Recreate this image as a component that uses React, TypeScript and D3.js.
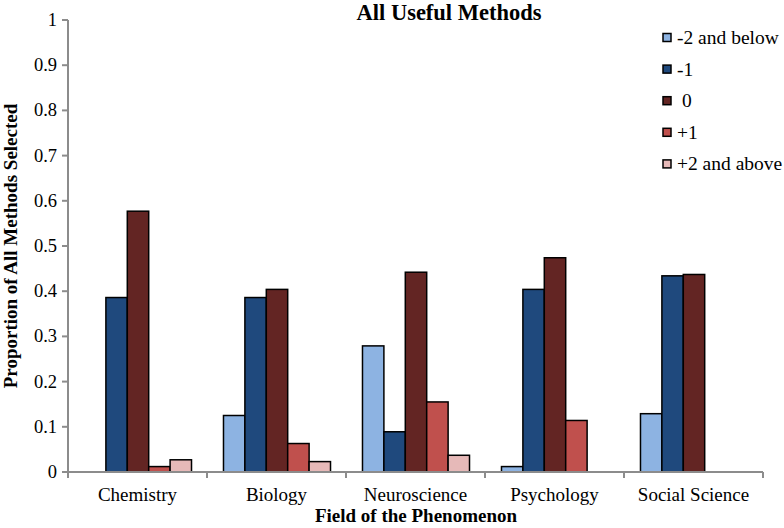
import React from "react";
import * as d3 from "d3";

const categories = ["Chemistry", "Biology", "Neuroscience", "Psychology", "Social Science"];
const seriesNames = ["-2 and below", "-1", " 0", "+1", "+2 and above"];
const seriesColors = ["#8DB3E2", "#1F497D", "#632523", "#C0504D", "#E6B9B8"];
const valsMinus2 = [0, 0.125, 0.279, 0.012, 0.129];
const valsMinus1 = [0.386, 0.386, 0.089, 0.404, 0.434];
const valsZero = [0.577, 0.404, 0.442, 0.474, 0.437];
const valsPlus1 = [0.012, 0.063, 0.155, 0.114, 0];
const valsPlus2 = [0.027, 0.023, 0.037, 0, 0];
const yTicks = [0, 0.1, 0.2, 0.3, 0.4, 0.5, 0.6, 0.7, 0.8, 0.9, 1];

const series = [valsMinus2, valsMinus1, valsZero, valsPlus1, valsPlus2];

const W = 784, H = 528;
const left = 68, right = 763, top = 20, bottom = 472;
const FONT = '"Liberation Serif", "Times New Roman", Tinos, "DejaVu Serif", serif';
const ts = { fontFamily: FONT, fill: "#000" } as const;

export default function App() {
  const x = d3.scaleBand<string>().domain(categories).range([left, right]).padding(0);
  const bw = x.bandwidth();
  const gap = bw * 0.23;
  const inner = d3.scaleBand<number>().domain(d3.range(series.length)).range([gap / 2 + 0.5, bw - gap / 2 + 0.5]).padding(0);
  const y = d3.scaleLinear().domain([0, 1]).range([bottom, top]);
  const axisColor = "#8c8c8c";
  const tickEdges = [...categories.map((c) => x(c) as number), right];

  return (
    <svg width={W} height={H} style={{ position: "absolute", left: 0, top: 0, background: "#fff" }}>
      <text x={449} y={20} textAnchor="middle" fontWeight="bold" fontSize={22.5} style={ts}>All Useful Methods</text>
      {categories.map((c, ci) => (
        <g key={c}>
          {series.map((s, si) =>
            s[ci] > 0 ? (
              <rect
                key={si}
                x={(x(c) as number) + (inner(si) as number)}
                y={y(s[ci])}
                width={inner.bandwidth()}
                height={bottom - y(s[ci])}
                fill={seriesColors[si]}
                stroke="#000"
                strokeWidth={1.5}
              />
            ) : null
          )}
        </g>
      ))}
      <line x1={left} x2={left} y1={top} y2={bottom} stroke={axisColor} strokeWidth={2} />
      {yTicks.map((t) => (
        <g key={t}>
          <line x1={left - 6} x2={left} y1={y(t)} y2={y(t)} stroke={axisColor} strokeWidth={2} />
          <text x={57} y={y(t) + 6} textAnchor="end" fontSize={18.5} style={ts}>{String(t)}</text>
        </g>
      ))}
      <line x1={left} x2={right} y1={bottom} y2={bottom} stroke={axisColor} strokeWidth={2} />
      {tickEdges.map((tx, i) => (
        <line key={i} x1={tx} x2={tx} y1={bottom} y2={bottom + 6} stroke={axisColor} strokeWidth={2} />
      ))}
      {categories.map((c) => (
        <text key={c} x={(x(c) as number) + bw / 2} y={501} textAnchor="middle" fontSize={19} style={ts}>{c}</text>
      ))}
      <text x={416} y={522} textAnchor="middle" fontWeight="bold" fontSize={19} style={ts}>Field of the Phenomenon</text>
      <text transform={`translate(17,${(top + bottom) / 2}) rotate(-90)`} textAnchor="middle" fontWeight="bold" fontSize={19} style={ts}>Proportion of All Methods Selected</text>
      {seriesNames.map((n, i) => {
        const ly = 38 + i * 31.6;
        return (
          <g key={n}>
            <rect x={663} y={ly - 4.5} width={8} height={8} fill={seriesColors[i]} stroke="#000" strokeWidth={1.5} />
            <text x={677} y={ly + 6} fontSize={19.5} style={{ ...ts, whiteSpace: "pre" }}>{n}</text>
          </g>
        );
      })}
    </svg>
  );
}
